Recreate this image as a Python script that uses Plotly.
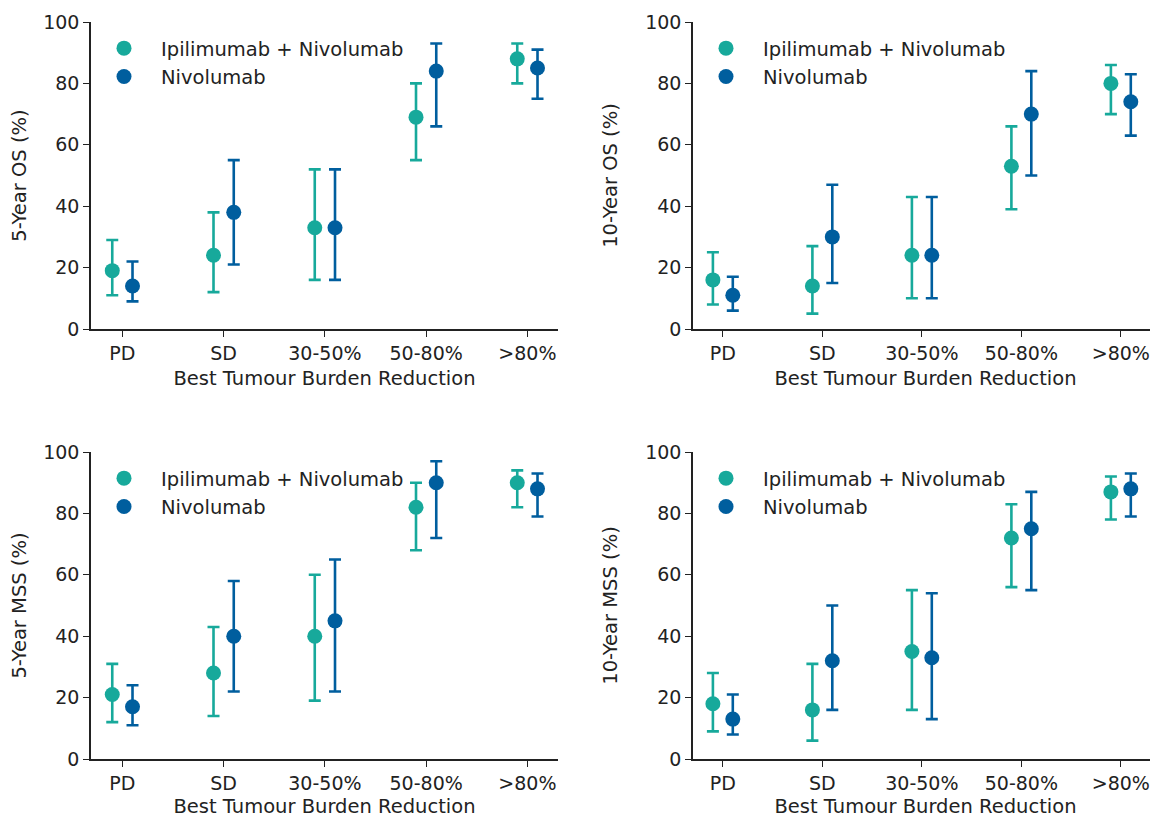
import plotly.graph_objects as go

categories = ["PD", "SD", "30-50%", "50-80%", ">80%"]
series_names = ["Ipilimumab + Nivolumab", "Nivolumab"]

# 5-Year OS
os5_ipi = [19, 24, 33, 69, 88]
os5_ipi_lo = [11, 12, 16, 55, 80]
os5_ipi_hi = [29, 38, 52, 80, 93]
os5_nivo = [14, 38, 33, 84, 85]
os5_nivo_lo = [9, 21, 16, 66, 75]
os5_nivo_hi = [22, 55, 52, 93, 91]

# 10-Year OS
os10_ipi = [16, 14, 24, 53, 80]
os10_ipi_lo = [8, 5, 10, 39, 70]
os10_ipi_hi = [25, 27, 43, 66, 86]
os10_nivo = [11, 30, 24, 70, 74]
os10_nivo_lo = [6, 15, 10, 50, 63]
os10_nivo_hi = [17, 47, 43, 84, 83]

# 5-Year MSS
mss5_ipi = [21, 28, 40, 82, 90]
mss5_ipi_lo = [12, 14, 19, 68, 82]
mss5_ipi_hi = [31, 43, 60, 90, 94]
mss5_nivo = [17, 40, 45, 90, 88]
mss5_nivo_lo = [11, 22, 22, 72, 79]
mss5_nivo_hi = [24, 58, 65, 97, 93]

# 10-Year MSS
mss10_ipi = [18, 16, 35, 72, 87]
mss10_ipi_lo = [9, 6, 16, 56, 78]
mss10_ipi_hi = [28, 31, 55, 83, 92]
mss10_nivo = [13, 32, 33, 75, 88]
mss10_nivo_lo = [8, 16, 13, 55, 79]
mss10_nivo_hi = [21, 50, 54, 87, 93]

y_titles = ["5-Year OS (%)", "10-Year OS (%)", "5-Year MSS (%)", "10-Year MSS (%)"]
x_title = "Best Tumour Burden Reduction"

panels = [
    ((os5_ipi, os5_ipi_lo, os5_ipi_hi), (os5_nivo, os5_nivo_lo, os5_nivo_hi)),
    ((os10_ipi, os10_ipi_lo, os10_ipi_hi), (os10_nivo, os10_nivo_lo, os10_nivo_hi)),
    ((mss5_ipi, mss5_ipi_lo, mss5_ipi_hi), (mss5_nivo, mss5_nivo_lo, mss5_nivo_hi)),
    ((mss10_ipi, mss10_ipi_lo, mss10_ipi_hi), (mss10_nivo, mss10_nivo_lo, mss10_nivo_hi)),
]

colors = ["#17A99B", "#005E9E"]
offsets = [-0.1, 0.1]
FONT = "DejaVu Sans"
PAGE_OFF = 8  # default body margin of the html page
W, H = 1158 - PAGE_OFF, 818 - PAGE_OFF

# pixel layout of the four plot areas in the screenshot (left, right, top, bottom)
# plus px per category and the left padding (in categories)
boxes = [
    (91, 558, 22, 329, 101.25, 0.31),
    (693, 1158, 22, 329, 99.5, 0.30),
    (91, 558, 452, 759, 101.25, 0.31),
    (693, 1158, 452, 759, 99.5, 0.30),
]

fig = go.Figure()
layout = dict(
    width=W, height=H,
    margin=dict(l=0, r=0, t=0, b=0),
    paper_bgcolor="white", plot_bgcolor="white",
    font=dict(family=FONT, size=19.5, color="#222222"),
    showlegend=True,
)

for p, (series_a, series_b) in enumerate(panels):
    idx = "" if p == 0 else str(p + 1)
    legend_name = "legend" + idx
    for s, (vals, lo, hi) in enumerate([series_a, series_b]):
        xs = [i + offsets[s] for i in range(len(categories))]
        fig.add_trace(go.Scatter(
            x=xs, y=vals,
            mode="markers",
            name=series_names[s],
            marker=dict(color=colors[s], size=15, line=dict(width=0)),
            error_y=dict(
                type="data", symmetric=False,
                array=[h - v for h, v in zip(hi, vals)],
                arrayminus=[v - l for v, l in zip(vals, lo)],
                color=colors[s], thickness=2.6, width=6,
            ),
            xaxis="x" + idx, yaxis="y" + idx,
            legend=legend_name,
            hovertext=categories,
        ))
    l, r, t, b = [v - PAGE_OFF for v in boxes[p][:4]]
    unit, pad = boxes[p][4], boxes[p][5]
    r = min(r, W)
    x0 = -pad
    x1 = x0 + (r - l) / unit
    layout["xaxis" + idx] = dict(
        domain=[l / W, r / W], anchor="y" + idx,
        range=[x0, x1],
        tickmode="array", tickvals=list(range(len(categories))), ticktext=categories,
        showline=True, linecolor="#222222", linewidth=1.6,
        ticks="outside", ticklen=6, tickwidth=1.4, tickcolor="#222222",
        showgrid=False, zeroline=False,
        tickfont=dict(size=19, color="#222222"),
        ticklabeloverflow="allow",
        title=dict(text=x_title, standoff=9, font=dict(size=19.5, color="#222222")),
        automargin=False,
    )
    layout["yaxis" + idx] = dict(
        domain=[1 - b / H, 1 - t / H], anchor="x" + idx,
        range=[0, 100],
        tickvals=[0, 20, 40, 60, 80, 100],
        showline=True, linecolor="#222222", linewidth=1.6,
        ticks="outside", ticklen=6, tickwidth=1.4, tickcolor="#222222",
        showgrid=False, zeroline=False,
        tickfont=dict(size=19, color="#222222"),
        title=dict(text=y_titles[p], standoff=22, font=dict(size=19.5, color="#222222")),
        automargin=False,
    )
    layout[legend_name] = dict(
        x=(l - 4) / W, y=1 - (t + 7) / H,
        xanchor="left", yanchor="top",
        bgcolor="rgba(0,0,0,0)", borderwidth=0,
        font=dict(size=19.5, color="#222222"),
        itemwidth=64,
        tracegroupgap=0,
    )

fig.update_layout(**layout)
fig.write_html("out.html")
